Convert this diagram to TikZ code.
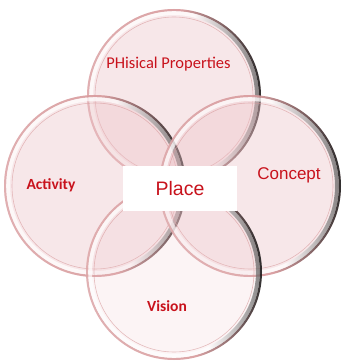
\documentclass[tikz,border=0pt]{standalone}
\usepackage{fontspec}
\setmainfont{Carlito}
\newfontfamily\arialfont{Liberation Sans}
\usetikzlibrary{positioning}

\definecolor{petal}{RGB}{236,195,200}
\definecolor{rim}{RGB}{214,150,152}
\definecolor{labelred}{RGB}{200,18,28}

% outer edge: rose on the left, dark shadow on the right
\pgfdeclarehorizontalshading{rimshade}{100bp}{color(0bp)=(rim!85); color(25bp)=(rim!85);
  color(54bp)=(rim); color(65bp)=(rim!55!black); color(75bp)=(black!95); color(100bp)=(black!95)}
% band just inside the edge
\pgfdeclarehorizontalshading{bandshade}{100bp}{color(0bp)=(white); color(25bp)=(white);
  color(58bp)=(white); color(68bp)=(black!40); color(75bp)=(black!65); color(100bp)=(black!65)}

\begin{document}
\begin{tikzpicture}[x=1pt,y=-1pt,
    petal/.style={circle,fill=petal,fill opacity=0.4,inner sep=0pt,outer sep=0pt},
    rimring/.style={even odd rule,shading=rimshade,shading angle=5,opacity=0.85},
    band/.style={even odd rule,shading=bandshade,shading angle=5,opacity=0.7},
    innerring/.style={draw=rim,line width=0.6pt,opacity=0.6},
    lbl/.style={text=labelred,inner sep=0pt}]
  \useasboundingbox (0,0) rectangle (341,361);

  \foreach \name/\x/\y/\r/\op in {phys/174/96/87/0.4, act/95/186/91/0.4, conc/250/186/91/0.4, vis/174/272/88/0.18} {
    \node[petal,fill opacity=\op,minimum size=2*\r pt] (\name) at (\x,\y) {};
    \shade[rimring] (\name.center) circle ({\r pt}) circle ({\r pt-2.2pt});
    \shade[band] (\name.center) circle ({\r pt-2.2pt}) circle ({\r pt-6pt});
    \draw[innerring] (\name.center) circle ({\r pt-8pt});
  }

  \node[lbl,font=\fontsize{16.5}{18}\selectfont] (physlbl) at (168.5,64) {PHisical Properties};
  \node[lbl,font=\fontsize{15.5}{17}\selectfont\bfseries] (actlbl) at (51,185) {Activity};
  \node[lbl,font=\arialfont\fontsize{17}{19}\selectfont] (conclbl) at (289,175) {Concept};
  \node[lbl,font=\fontsize{15.5}{17}\selectfont\bfseries] (vislbl) at (167,306) {Vision};

  \node[fill=white,minimum width=114pt,minimum height=45pt,inner sep=0pt,text=labelred,
        font=\arialfont\fontsize{19.5}{21}\selectfont] (place) at (180,188.5) {Place};
\end{tikzpicture}
\end{document}
